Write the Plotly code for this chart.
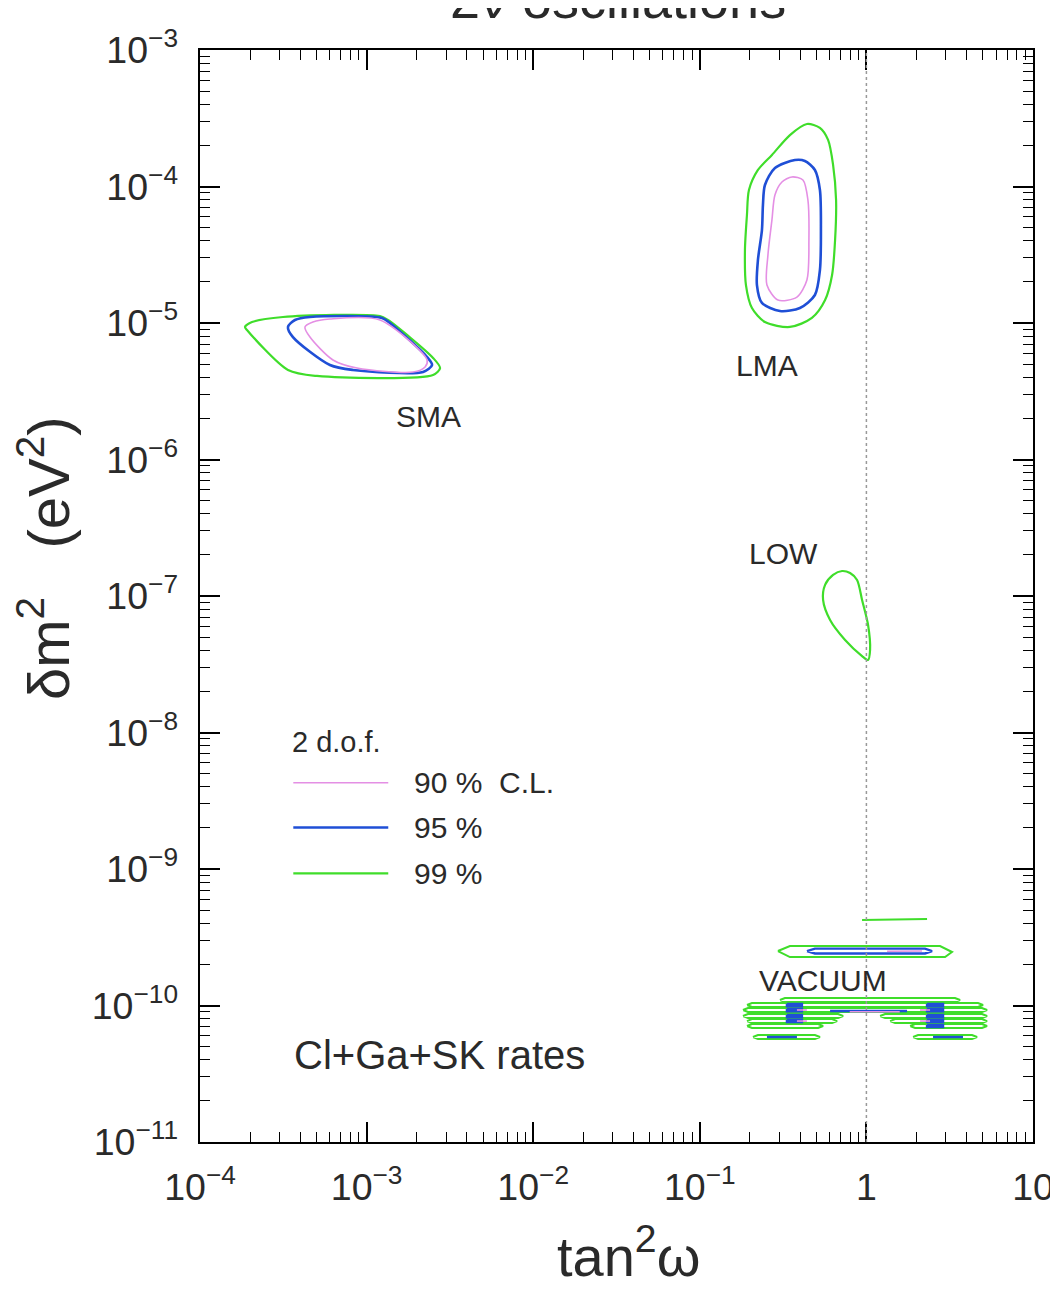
import plotly.graph_objects as go

# ---------------- data (log10 tan^2(omega), log10 dm^2/eV^2) ----------------
# SMA region
sma90_lx = [-3.370, -3.322, -3.220, -2.920, -2.637, -2.649, -2.721, -3.058, -3.202, -3.340, -3.370]
sma90_ly = [-5.029, -4.993, -4.971, -4.978, -5.271, -5.322, -5.359, -5.330, -5.271, -5.103, -5.029]
sma95_lx = [-3.472, -3.430, -3.340, -2.908, -2.860, -2.637, -2.607, -2.661, -3.082, -3.220, -3.442, -3.472]
sma95_ly = [-5.029, -4.978, -4.956, -4.963, -5.000, -5.249, -5.308, -5.359, -5.344, -5.308, -5.103, -5.029]
sma99_lx = [-3.730, -3.688, -3.502, -2.920, -2.872, -2.601, -2.559, -2.601, -3.298, -3.472, -3.718, -3.730]
sma99_ly = [-5.029, -4.993, -4.956, -4.949, -4.978, -5.256, -5.330, -5.381, -5.388, -5.344, -5.051, -5.029]

# LMA region
lma90_lx = [-0.447, -0.381, -0.351, -0.345, -0.357, -0.417, -0.531, -0.597, -0.591, -0.567, -0.549, -0.507, -0.447]
lma90_ly = [-3.930, -3.952, -4.099, -4.392, -4.685, -4.810, -4.832, -4.722, -4.502, -4.245, -4.062, -3.967, -3.930]
lma95_lx = [-0.429, -0.369, -0.309, -0.279, -0.273, -0.279, -0.309, -0.399, -0.519, -0.627, -0.657, -0.651, -0.627, -0.621, -0.609, -0.549, -0.429]
lma95_ly = [-3.806, -3.813, -3.879, -4.026, -4.319, -4.612, -4.795, -4.890, -4.912, -4.853, -4.722, -4.538, -4.319, -4.136, -3.989, -3.864, -3.806]
lma99_lx = [-0.357, -0.279, -0.230, -0.200, -0.182, -0.188, -0.206, -0.248, -0.327, -0.459, -0.609, -0.687, -0.723, -0.729, -0.717, -0.705, -0.651, -0.567, -0.459, -0.357]
lma99_ly = [-3.542, -3.571, -3.659, -3.842, -4.099, -4.392, -4.648, -4.832, -4.963, -5.029, -4.993, -4.890, -4.722, -4.465, -4.209, -4.026, -3.879, -3.769, -3.623, -3.542]

# LOW region (99% only)
low99_lx = [-0.146, -0.098, -0.056, -0.026, 0.010, 0.022, 0.010, -0.026, -0.128, -0.218, -0.260, -0.248, -0.200, -0.146]
low99_ly = [-6.817, -6.832, -6.883, -7.029, -7.212, -7.396, -7.469, -7.440, -7.322, -7.176, -7.029, -6.919, -6.846, -6.817]

# VACUUM region: thin islands, one list of loops per C.L.
vac99_loops = [
    ([-0.026, 0.364], [-9.374, -9.366]),
    ([-0.531, -0.459, 0.442, 0.484, 0.514, 0.472, -0.459, -0.531], [-9.601, -9.564, -9.564, -9.593, -9.608, -9.645, -9.645, -9.601]),
    ([-0.519, -0.489, 0.532, 0.562, 0.532, -0.489, -0.519], [-9.960, -9.945, -9.945, -9.960, -9.974, -9.974, -9.960]),
    ([-0.717, -0.687, 0.670, 0.700, 0.670, -0.687, -0.717], [-9.996, -9.982, -9.982, -9.996, -10.011, -10.011, -9.996]),
    ([-0.741, -0.711, 0.694, 0.724, 0.694, -0.711, -0.741], [-10.033, -10.018, -10.018, -10.033, -10.048, -10.048, -10.033]),
    ([-0.741, -0.711, -0.170, -0.140, -0.170, -0.711, -0.741], [-10.077, -10.062, -10.062, -10.077, -10.092, -10.092, -10.077]),
    ([0.082, 0.112, 0.694, 0.724, 0.694, 0.112, 0.082], [-10.077, -10.062, -10.062, -10.077, -10.092, -10.092, -10.077]),
    ([-0.717, -0.687, -0.206, -0.176, -0.206, -0.687, -0.717], [-10.114, -10.099, -10.099, -10.114, -10.128, -10.128, -10.114]),
    ([0.142, 0.172, 0.694, 0.724, 0.694, 0.172, 0.142], [-10.114, -10.099, -10.099, -10.114, -10.128, -10.128, -10.114]),
    ([-0.717, -0.687, -0.290, -0.260, -0.290, -0.687, -0.717], [-10.150, -10.136, -10.136, -10.150, -10.165, -10.165, -10.150]),
    ([0.262, 0.292, 0.694, 0.724, 0.694, 0.292, 0.262], [-10.150, -10.136, -10.136, -10.150, -10.165, -10.165, -10.150]),
    ([-0.681, -0.651, -0.309, -0.279, -0.309, -0.651, -0.681], [-10.231, -10.216, -10.216, -10.231, -10.245, -10.245, -10.231]),
    ([0.280, 0.310, 0.634, 0.664, 0.634, 0.310, 0.280], [-10.231, -10.216, -10.216, -10.231, -10.245, -10.245, -10.231]),
]
vac95_loops = [
    ([-0.357, -0.309, 0.352, 0.394, 0.352, -0.309, -0.357], [-9.601, -9.583, -9.583, -9.601, -9.619, -9.619, -9.601]),
    ([-0.477, -0.387, -0.387, -0.477, -0.477], [-9.988, -9.988, -10.005, -10.005, -9.988]),
    ([-0.477, -0.387, -0.387, -0.477, -0.477], [-10.025, -10.025, -10.042, -10.042, -10.025]),
    ([-0.477, -0.387, -0.387, -0.477, -0.477], [-10.069, -10.069, -10.086, -10.086, -10.069]),
    ([-0.477, -0.387, -0.387, -0.477, -0.477], [-10.106, -10.106, -10.122, -10.122, -10.106]),
    ([0.364, 0.460, 0.460, 0.364, 0.364], [-9.988, -9.988, -10.005, -10.005, -9.988]),
    ([0.364, 0.460, 0.460, 0.364, 0.364], [-10.025, -10.025, -10.042, -10.042, -10.025]),
    ([0.364, 0.460, 0.460, 0.364, 0.364], [-10.069, -10.069, -10.086, -10.086, -10.069]),
    ([0.364, 0.460, 0.460, 0.364, 0.364], [-10.106, -10.106, -10.122, -10.122, -10.106]),
    ([0.364, 0.460, 0.460, 0.364, 0.364], [-10.142, -10.142, -10.158, -10.158, -10.142]),
    ([-0.597, -0.417], [-10.231, -10.231]),
    ([0.400, 0.580], [-10.231, -10.231]),
    ([-0.218, 0.244], [-10.040, -10.040]),
]
vac90_loops = [
    ([0.124, 0.334], [-9.603, -9.601]),
    ([-0.417, -0.357], [-10.033, -10.033]),
    ([-0.417, -0.357], [-10.114, -10.114]),
    ([0.322, 0.382], [-10.033, -10.033]),
    ([0.322, 0.382], [-10.114, -10.114]),
    ([-0.100, 0.200], [-10.046, -10.046]),
]

cl_labels = ["90 %  C.L.", "95 %", "99 %"]
region_labels = ["SMA", "LMA", "LOW", "VACUUM"]

PINK = "#e48fe4"
BLUE = "#1f4fd6"
GREEN = "#3fdd2a"
FONT = "Liberation Sans, Arial, sans-serif"
TXT = "#2a2a2a"


def lin(v):
    return [None if a is None else 10 ** a for a in v]


def join(loops):
    xs, ys = [], []
    for lx, ly in loops:
        xs += lin(lx) + [None]
        ys += lin(ly) + [None]
    return xs, ys


fig = go.Figure()

# smooth contours
for lx, ly, col, w in [
    (sma99_lx, sma99_ly, GREEN, 2.2), (sma95_lx, sma95_ly, BLUE, 2.6), (sma90_lx, sma90_ly, PINK, 1.6),
    (lma99_lx, lma99_ly, GREEN, 2.2), (lma95_lx, lma95_ly, BLUE, 2.6), (lma90_lx, lma90_ly, PINK, 1.6),
    (low99_lx, low99_ly, GREEN, 2.2),
]:
    fig.add_trace(go.Scatter(x=lin(lx), y=lin(ly), mode="lines",
                             line=dict(color=col, width=w, shape="spline", smoothing=0.8),
                             showlegend=False, hoverinfo="skip"))

for loops, col, w in [(vac99_loops, GREEN, 2.0), (vac95_loops, BLUE, 2.4), (vac90_loops, PINK, 1.6)]:
    xs, ys = join(loops)
    fig.add_trace(go.Scatter(x=xs, y=ys, mode="lines", line=dict(color=col, width=w),
                             showlegend=False, hoverinfo="skip"))

axis_common = dict(
    type="log", dtick=1, exponentformat="power", showexponent="all", automargin=False,
    showgrid=False, zeroline=False, showline=True, linecolor="black", linewidth=2,
    mirror="allticks", ticks="inside", ticklen=20, tickwidth=1.5, tickcolor="black",
    minor=dict(ticks="inside", ticklen=10, dtick="D1", tickcolor="black", tickwidth=1.2, showgrid=False),
    tickfont=dict(family=FONT, size=30, color=TXT),
)

# page has an 8px body offset: figure is sized so the plot frame lands at x 200-1033, y 50-1142
fig.update_layout(
    width=1050, height=1285,
    margin=dict(l=192, r=25, t=42, b=151, autoexpand=False),
    paper_bgcolor="white", plot_bgcolor="white",
    xaxis=dict(range=[-4, 1], ticklabelstandoff=12, **axis_common),
    yaxis=dict(range=[-11, -3], ticklabelstandoff=14, **axis_common),
    showlegend=False,
    font=dict(family=FONT, color=TXT),
)

# dotted line at tan^2 = 1
fig.add_shape(type="line", xref="paper", yref="paper", x0=0.8, x1=0.8, y0=0, y1=1,
              line=dict(color="#999", width=1.5, dash="dot"))


def note(text, x, y, size, xanchor="center", angle=0):
    return dict(text=text, x=x, y=y, xref="paper", yref="paper", xanchor=xanchor, yanchor="middle",
                textangle=angle, showarrow=False, font=dict(size=size, family=FONT, color=TXT))


ann = []
# title (cut off at top of page)
ann.append(dict(text="2ν oscillations", x=0.502, y=1.047, xref="paper", yref="paper",
                xanchor="center", yanchor="middle", showarrow=False,
                font=dict(size=54, family=FONT, color=TXT)))
# axis titles
ann.append(note("δm<sup>2</sup>   (eV<sup>2</sup>)", -0.187, 0.535, 58, angle=-90))
ann.append(note("tan<sup>2</sup>ω", 0.514, -0.101, 56))
# region labels
for txt, xp, yp in zip(region_labels, [0.274, 0.681, 0.700, 0.748], [0.664, 0.711, 0.539, 0.148]):
    ann.append(note(txt, xp, yp, 30))
ann.append(note("Cl+Ga+SK rates", 0.288, 0.080, 40))
# legend
ann.append(note("2 d.o.f.", 0.108, 0.366, 29, xanchor="left"))
for txt, yp, col, w in zip(cl_labels, [0.329, 0.288, 0.246], [PINK, BLUE, GREEN], [1.6, 2.6, 2.2]):
    fig.add_shape(type="line", xref="paper", yref="paper", x0=0.112, x1=0.226, y0=yp, y1=yp,
                  line=dict(color=col, width=w))
    ann.append(note(txt, 0.2545, yp, 30, xanchor="left"))

fig.update_layout(annotations=ann)
fig.write_html("out.html")
